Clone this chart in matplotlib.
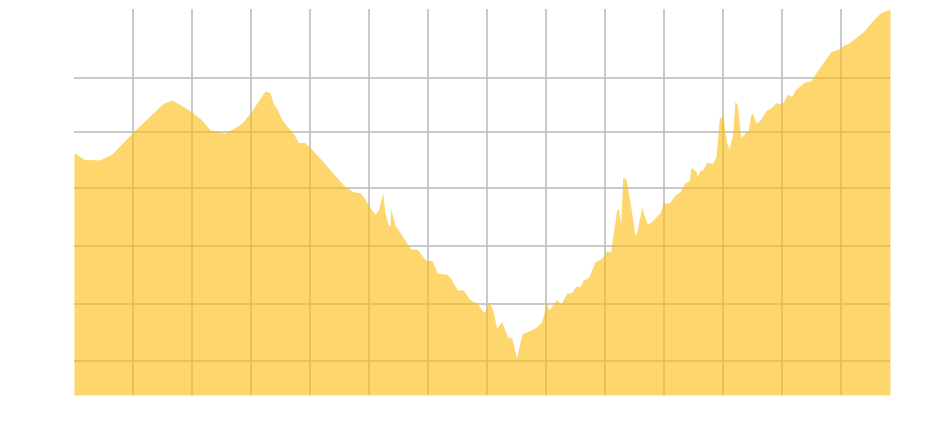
import matplotlib
matplotlib.use("Agg")
import matplotlib.pyplot as plt
import numpy as np

# day number along the x axis (one vertical gridline every 59 days)
days = [0, 10, 25.3, 37.7, 59.3, 89.3, 97.7, 111, 126, 136,
        151, 167.7, 176, 182.7, 191, 196, 199.3, 202.7, 207.7, 212.7,
        219.3, 224.3, 231, 237.7, 246, 257.7, 271, 279.3, 286, 289.3,
        294.3, 301, 304.3, 308.7, 311, 314.3, 316, 316.7, 321, 327.7,
        336.7, 343.3, 352, 357.7, 363.3, 372.7, 376.7, 383.3, 389.3, 396,
        402.7, 410, 415.3, 418.7, 422.7, 427.7, 433.3, 437.7, 442.7, 446,
        448.7, 456, 462.7, 467.7, 470, 472, 475, 482.7, 486.7, 492.7,
        497.7, 502, 506, 509.3, 514.3, 517.7, 521, 527.7, 532.7, 536.7,
        538.7, 542.7, 544.3, 546.7, 548.7, 552, 556.7, 561, 562.7, 567.7,
        569.3, 573.3, 577.7, 582.7, 586, 589.3, 595.3, 601, 606, 611,
        615.3, 617, 622, 623.3, 626, 629.3, 632.7, 638.7, 642, 645.3,
        648.7, 652.7, 655.3, 658.7, 661, 663.3, 666.7, 674.3, 676.7, 678.7,
        682, 686, 692.7, 697.7, 702, 704.3, 709.3, 713.7, 717.7, 721,
        731, 736.7, 742.7, 756.7, 764.3, 770, 774.3, 789.3, 799.3, 806.7,
        816]

# level (arbitrary units, the original hides its axis labels)
level = [242.3, 235.7, 235, 240.7, 263.3, 291.7, 295, 287.7, 276.7, 265,
         261.7, 271.7, 281.7, 291.7, 304, 302.3, 291, 286.7, 275.7, 269,
         261.7, 252.7, 252.3, 245.7, 236.7, 223.3, 208.3, 203.3, 202.3, 198.3,
         190, 180.7, 185, 201.7, 181.7, 170, 169, 186.7, 170, 160,
         146, 145.7, 134.3, 135, 121.7, 121, 116.7, 105, 105, 95,
         92.3, 82.3, 93.3, 85, 66.7, 73.3, 58.3, 56.7, 36.7, 53.3,
         61.7, 64.3, 68.3, 73.3, 81.7, 93.3, 85, 95.7, 90.7, 101.7,
         102.3, 109, 108.3, 115, 117.3, 125, 133.3, 136.7, 144.3, 142.7,
         158.3, 185, 186.7, 170, 217.7, 215.7, 188.3, 160, 162.3, 188.3,
         181.7, 171, 173.3, 179, 181.7, 191.7, 192.3, 200, 203.3, 212.3,
         214.3, 227.7, 223.3, 219.3, 224.3, 225.7, 232.7, 231.7, 238.3, 276.7,
         279, 251.7, 246, 261.7, 294, 290, 257.7, 265, 280, 281.7,
         271.7, 275, 285, 287.7, 292.7, 291, 293.3, 301, 298.3, 305,
         313.3, 314, 323.3, 343.3, 345.7, 350, 351.7, 363.3, 375, 382.3,
         385.7]

x_grid = np.arange(59, 816, 59)
y_grid = [34.0, 91.0, 149.5, 207.5, 263.5, 317.5]

fig = plt.figure(figsize=(9.39, 4.29), dpi=100)
ax = fig.add_axes([74 / 939, 34 / 429, 816 / 939, 386 / 429])

# grid under a half transparent fill, like the original
for gx in x_grid:
    ax.axvline(gx, color='#c0c0c0', linewidth=1.2, zorder=1)
for gy in y_grid:
    ax.axhline(gy, color='#c0c0c0', linewidth=1.2, zorder=1)

ax.fill_between(days, 0, level, color='#FDBB0D', alpha=0.6, linewidth=0, zorder=2)

ax.set_xlim(0, 816)
ax.set_ylim(0, 386)
ax.set_xticks([])
ax.set_yticks([])
for s in ax.spines.values():
    s.set_visible(False)

fig.savefig('out.png', dpi=100)
